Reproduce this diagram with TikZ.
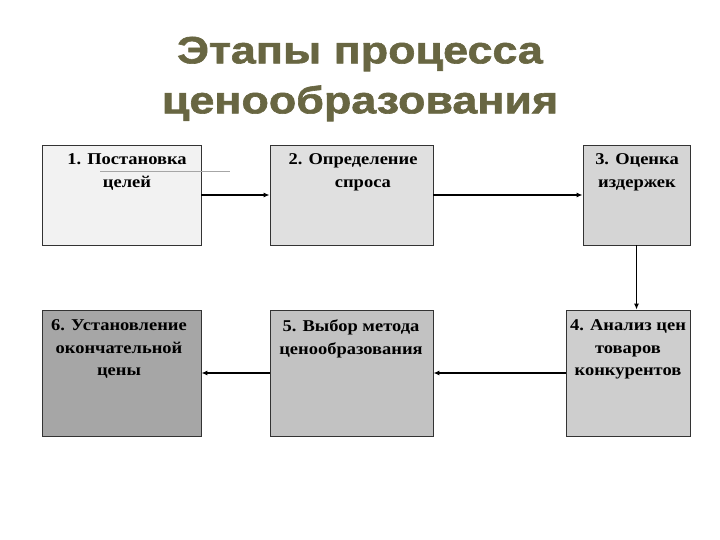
\documentclass[tikz,border=0pt]{standalone}
\usepackage{fontspec}
\setmainfont[FakeStretch=1.12]{Liberation Serif}
\newfontfamily\titlefont[FakeStretch=1.18, BoldFeatures={FakeBold=1.6}]{Liberation Sans}
\usetikzlibrary{arrows.meta, positioning}
\definecolor{olive}{RGB}{104, 102, 66}
\definecolor{pale}{RGB}{242, 242, 242}
\definecolor{light}{RGB}{224, 224, 224}
\definecolor{mid}{RGB}{194, 194, 194}
\definecolor{dark}{RGB}{166, 166, 166}

\begin{document}
\begin{tikzpicture}[x=1pt, y=-1pt, thick,
  box/.style={draw=black!80, line width=0.8pt, inner sep=0pt},
  lbl/.style={font=\bfseries\fontsize{16.5}{22.5}\selectfont, align=center, anchor=north},
  link/.style={line width=1.4pt, -{Latex[length=6pt, width=5pt]}}]

  \useasboundingbox (0, 0) rectangle (720, 540);

  % title
  \node[font=\titlefont\bfseries\fontsize{38}{50}\selectfont, text=olive, align=center]
    (title) at (360, 79) {Этапы процесса\\ценообразования};

  % upper row
  \node[box, fill=pale, minimum width=159, minimum height=100] (st1) at (121.5, 195) {};
  \node[box, fill=light, minimum width=163, minimum height=100] (st2) at (351.5, 195) {};
  \node[box, fill=light!95!black, minimum width=107, minimum height=100] (st3) at (636.5, 195) {};

  % lower row
  \node[box, fill=light!92!black, minimum width=124, minimum height=126] (st4) at (628, 373) {};
  \node[box, fill=mid, minimum width=163, minimum height=126] (st5) at (351.5, 373) {};
  \node[box, fill=dark, minimum width=159, minimum height=126] (st6) at (121.5, 373) {};

  \node[lbl] (t1) at (127, 150) {1. Постановка\\целей};
  \node[lbl] (t2) at (353, 150) {2. Определение\\\hspace{1.2em}спроса};
  \node[lbl] (t3) at (637, 150) {3. Оценка\\издержек};
  \node[lbl] (t4) at (628, 316) {4. Анализ цен\\товаров\\конкурентов};
  \node[lbl] (t5) at (351, 316) {5. Выбор метода\\ценообразования};
  \node[lbl] (t6) at (119, 316) {6. Установление\\окончательной\\цены};

  % stray rule under the first label
  \coordinate (r1) at (100, 171);
  \coordinate (r2) at (230, 171);
  \draw[gray!70, line width=0.6pt] (r1) -- (r2);

  \draw[link] (st1.east) -- (st2.west);
  \draw[link] (st2.east) -- (st3.west);
  \draw[link] (st3.south) -- (st3.south |- st4.north);
  \draw[link] (st4.west) -- (st5.east);
  \draw[link] (st5.west) -- (st6.east);

\end{tikzpicture}
\end{document}
